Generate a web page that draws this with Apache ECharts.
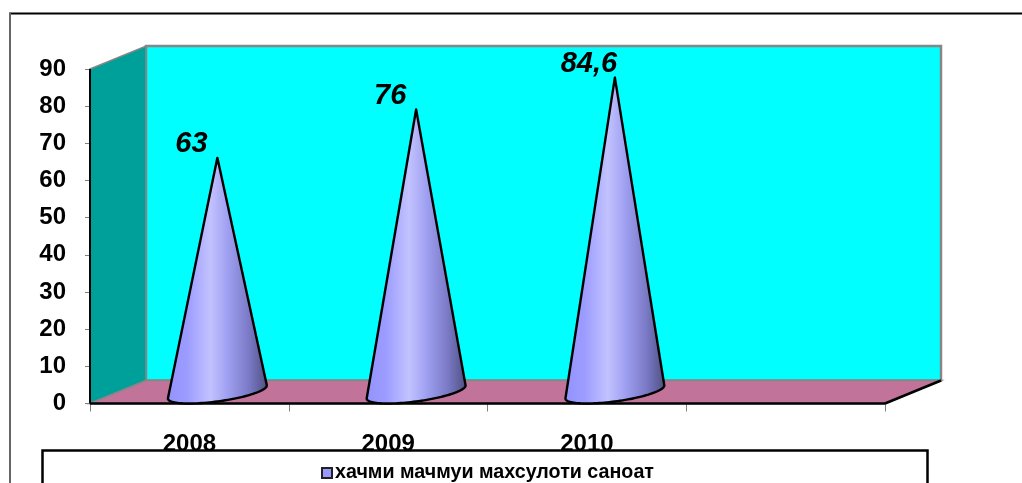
<!DOCTYPE html>
<html><head><meta charset="utf-8">
<style>html,body{margin:0;padding:0;background:#fff}#c{width:1022px;height:483px}</style>
<script src="https://cdn.jsdelivr.net/npm/echarts@6/dist/echarts.min.js"></script>
</head><body><div id="c"></div>
<script>
const categories = ['2008', '2009', '2010', ''];
const values = [63, 76, 84.6, null];
const yTicks = [0, 90, 10];
const seriesName = 'хачми мачмуи махсулоти саноат';
const DX = 56, DY = -23;            // oblique depth of the 3D box
const FONT = '"Liberation Sans", Arial, sans-serif';

const chart = echarts.init(document.getElementById('c'), null, {renderer: 'canvas'});

function renderWalls(params, api) {
  const cs = params.coordSys;
  const x0 = cs.x, x1 = cs.x + cs.width, yB = cs.y + cs.height, yT = cs.y;
  const poly = (pts, fill, stroke, lw) => ({type: 'polygon', shape: {points: pts},
    style: {fill: fill, stroke: stroke, lineWidth: lw}});
  const line = (a, b, c, lw) => ({type: 'line', shape: {x1: a[0], y1: a[1], x2: b[0], y2: b[1]},
    style: {stroke: c, lineWidth: lw}});
  return {type: 'group', children: [
    poly([[x0 + DX, yT + DY], [x1 + DX, yT + DY], [x1 + DX, yB + DY], [x0 + DX, yB + DY]], '#00FFFF', '#868686', 2.5),
    poly([[x0, yT], [x0 + DX, yT + DY], [x0 + DX, yB + DY], [x0, yB]], '#00A09A', '#868686', 1.5),
    poly([[x0, yB], [x0 + DX, yB + DY], [x1 + DX, yB + DY], [x1, yB]], '#C27399', '#868686', 1.5),
    line([x0, yT], [x0, yB], '#000', 2),
    line([x0, yB], [x1, yB], '#000', 2.5),
    line([x1, yB], [x1 + DX, yB + DY], '#000', 2.5)
  ]};
}

function renderCone(params, api) {
  const idx = api.value(0), val = api.value(1);
  if (val == null || isNaN(val)) return;
  const base = api.coord([idx, 0]), top = api.coord([idx, val]);
  const band = api.size([1, 0])[0];
  const hw = band * 0.205;
  const cx = base[0] + DX / 2, cy = base[1] + DY / 2;
  const tip = [cx, top[1] + DY / 2];
  const pt = t => [cx + hw * Math.cos(t) + (DX / 2) * Math.sin(t), cy + (DY / 2) * Math.sin(t)];
  // tangent points of the cone's silhouette, seen from the tip
  let tL = 0, tR = 0, aL = Infinity, aR = -Infinity;
  for (let i = 0; i < 720; i++) {
    const t = i / 720 * 2 * Math.PI, p = pt(t);
    const a = (p[0] - tip[0]) / (p[1] - tip[1]);
    if (a < aL) { aL = a; tL = t; }
    if (a > aR) { aR = a; tR = t; }
  }
  // walk from the left tangent along the near side of the base ellipse to the right tangent
  const pl = pt(tL), pr = pt(tR);
  let tB = tR;
  if (tB < tL) tB += 2 * Math.PI;
  if (pt((tL + tB) / 2)[1] <= (pl[1] + pr[1]) / 2) tB -= 2 * Math.PI;
  const pts = [tip];
  for (let i = 0; i <= 60; i++) pts.push(pt(tL + (tB - tL) * i / 60));
  const grad = new echarts.graphic.LinearGradient(0, 0, 1, 0, [
    {offset: 0, color: '#9292FC'},
    {offset: 0.2, color: '#9C9CFF'},
    {offset: 0.43, color: '#C2C2FF'},
    {offset: 0.6, color: '#A0A0F2'},
    {offset: 0.82, color: '#7878C4'},
    {offset: 1, color: '#4E4E80'}
  ]);
  const label = String(val).replace('.', ',');
  return {type: 'group', children: [
    {type: 'polygon', shape: {points: pts},
      style: {fill: grad, stroke: '#000', lineWidth: 2.4, lineJoin: 'round'}},
    {type: 'text', x: tip[0] - 26, y: tip[1] - 14,
      style: {text: label, fill: '#000', font: 'italic bold 29px ' + FONT, align: 'center', verticalAlign: 'middle'}}
  ]};
}

chart.setOption({
  animation: false,
  backgroundColor: '#fff',
  grid: {left: 90, right: 137, top: 69, bottom: 79.5, containLabel: false},
  legend: {
    show: true, top: 463, left: 321, padding: 0, itemWidth: 10, itemHeight: 10, itemGap: 3,
    icon: 'rect', z: 30, data: [{name: seriesName, itemStyle: {color: '#9999FF', borderColor: '#222', borderWidth: 2}}],
    textStyle: {fontFamily: FONT, fontWeight: 'bold', fontSize: 19.7, color: '#000', padding: [0, 0, 0, -2]}
  },
  xAxis: {
    type: 'category', data: categories, boundaryGap: true,
    axisLine: {show: false},
    axisTick: {show: true, length: 8, alignWithLabel: false, lineStyle: {color: '#808080', width: 1}},
    axisLabel: {color: '#000', fontFamily: FONT, fontWeight: 'bold', fontSize: 24, margin: 29}
  },
  yAxis: {
    type: 'value', min: yTicks[0], max: yTicks[1], interval: yTicks[2],
    axisLine: {show: false}, splitLine: {show: false},
    axisTick: {show: true, length: 5, lineStyle: {color: '#808080', width: 1}},
    axisLabel: {color: '#000', fontFamily: FONT, fontWeight: 'bold', fontSize: 24, margin: 24, padding: [2, 0, 0, 0]}
  },
  graphic: [
    {type: 'line', z: 20, shape: {x1: 9, y1: 13.5, x2: 1022, y2: 13.5}, style: {stroke: '#000', lineWidth: 2}},
    {type: 'line', z: 20, shape: {x1: 10, y1: 13, x2: 10, y2: 483}, style: {stroke: '#666', lineWidth: 2}},
    {type: 'rect', z: 25, shape: {x: 42.5, y: 450.5, width: 885, height: 50},
      style: {fill: '#fff', stroke: '#000', lineWidth: 2.5}}
  ],
  series: [
    {type: 'custom', name: '__walls', coordinateSystem: 'cartesian2d', renderItem: renderWalls,
      data: [[0, 0]], z: 1, silent: true, clip: false, legendHoverLink: false},
    {type: 'custom', name: seriesName, coordinateSystem: 'cartesian2d', renderItem: renderCone,
      data: values.map((v, i) => [i, v]), encode: {x: 0, y: 1}, z: 3, clip: false,
      itemStyle: {color: '#9999FF'}}
  ]
});
</script></body></html>
